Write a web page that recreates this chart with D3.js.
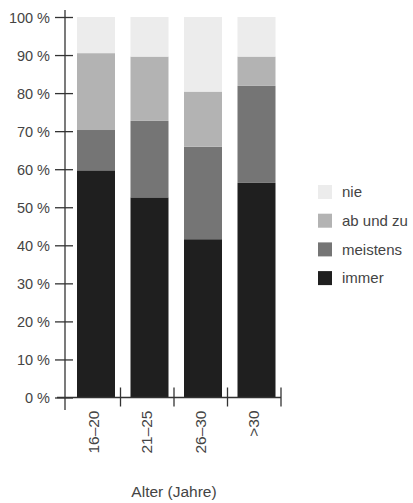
<!DOCTYPE html>
<html><head><meta charset="utf-8">
<script src="https://cdn.jsdelivr.net/npm/d3@7"></script>
<style>
html,body{margin:0;padding:0;background:#fff;}
text{font-family:"Liberation Sans",Arial,Helvetica,sans-serif;}
</style></head>
<body><svg id="c" width="413" height="503"></svg>
<script>
const categories = ["16–20","21–25","26–30",">30"];
const seriesNames = ["immer","meistens","ab und zu","nie"];
const immer    = [59.7, 52.6, 41.6, 56.4];
const meistens = [10.6, 20.1, 24.3, 25.5];
const abUndZu  = [20.2, 16.9, 14.5, 7.7];
const nie      = [9.5, 10.4, 19.6, 10.4];
const yTicks = [0,10,20,30,40,50,60,70,80,90,100];
const yTickLabels = ["0 %","10 %","20 %","30 %","40 %","50 %","60 %","70 %","80 %","90 %","100 %"];
const colors = ["#1f1f1f","#757575","#b3b3b3","#ececec"];
const xTitle = "Alter (Jahre)";

const svg = d3.select("#c");
const y = d3.scaleLinear().domain([0,100]).range([397.5,17]);
const x = d3.scaleBand().domain(categories).range([67,281]).padding(0);
const step = x.step();

const rows = categories.map((c,i)=>({cat:c, immer:immer[i], meistens:meistens[i], "ab und zu":abUndZu[i], nie:nie[i]}));
const stack = d3.stack().keys(seriesNames)(rows);

svg.append("g").selectAll("g").data(stack).join("g")
  .attr("fill",(d,i)=>colors[i])
  .selectAll("rect").data(d=>d).join("rect")
  .attr("x",d=>x(d.data.cat)+10)
  .attr("width",38)
  .attr("y",d=>y(d[1]))
  .attr("height",d=>y(d[0])-y(d[1]));

// y axis
const ya = svg.append("g").attr("transform","translate(65,0)")
  .call(d3.axisLeft(y).tickValues(yTicks).tickFormat((d,i)=>yTickLabels[i]).tickSize(10).tickPadding(5));
ya.select(".domain").remove();
ya.selectAll(".tick line").attr("x1",8).attr("stroke","#333").attr("stroke-width",1.3);
ya.selectAll(".tick text").attr("fill","#444").style("font-size","14.5px").attr("dy","0.35em");
ya.append("line").attr("x1",0).attr("x2",0).attr("y1",10).attr("y2",410).attr("stroke","#333").attr("stroke-width",1.3);

// x axis
const xa = svg.append("g").attr("transform","translate(0,397.5)");
xa.append("line").attr("x1",57).attr("x2",281).attr("stroke","#333").attr("stroke-width",1.3);
xa.selectAll("line.t").data(categories).join("line").attr("class","t")
  .attr("x1",d=>x(d)+step).attr("x2",d=>x(d)+step).attr("y1",-10).attr("y2",9)
  .attr("stroke","#333").attr("stroke-width",1.3);
xa.selectAll("text").data(categories).join("text")
  .attr("transform",d=>`translate(${x(d)+step/2+5},13) rotate(-90)`)
  .attr("text-anchor","end").attr("fill","#444").style("font-size","15.5px")
  .text(d=>d);

svg.append("text").attr("x",174).attr("y",497).attr("text-anchor","middle")
  .attr("fill","#444").style("font-size","15.5px").text(xTitle);

// legend
const legendOrder = ["nie","ab und zu","meistens","immer"];
const lg = svg.append("g");
legendOrder.forEach((k,i)=>{
  const cy = 192 + i*28.7;
  lg.append("rect").attr("x",318).attr("y",cy-7).attr("width",14).attr("height",14)
    .attr("fill",colors[seriesNames.indexOf(k)]);
  lg.append("text").attr("x",342).attr("y",cy).attr("dy","0.35em").attr("fill","#444")
    .style("font-size","15px").text(k);
});
</script></body></html>
